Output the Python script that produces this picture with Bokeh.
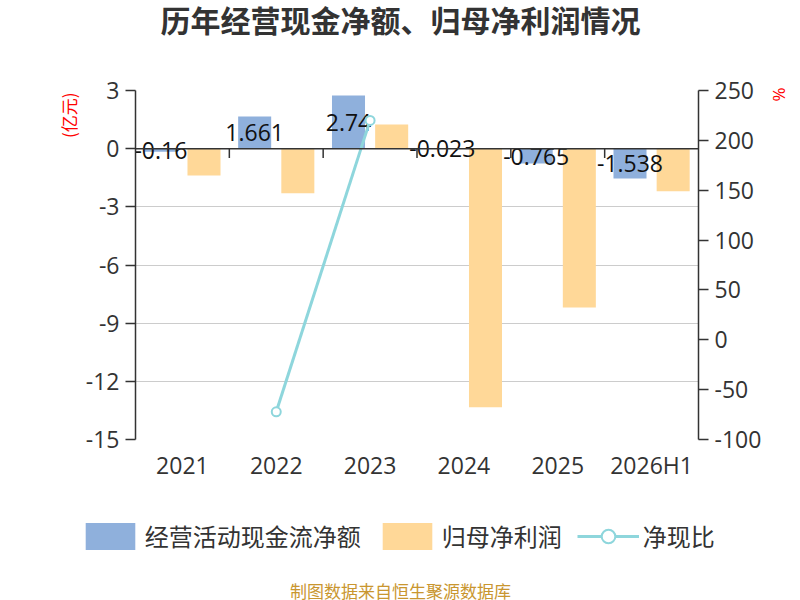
import math
from bokeh.plotting import figure
from bokeh.layouts import column
from bokeh.models import (FactorRange, Range1d, LinearAxis, FixedTicker, ColumnDataSource,
                          Span, Title, Legend, LegendItem)
from bokeh.transform import dodge
from bokeh.core.properties import value
from bokeh.embed import file_html
from bokeh.resources import INLINE

# ---- data ----
categories = ["2021", "2022", "2023", "2024", "2025", "2026H1"]
ocf = [-0.16, 1.661, 2.74, -0.023, -0.765, -1.538]          # 经营活动现金流净额 (亿元)
ocf_labels = ["-0.16", "1.661", "2.74", "-0.023", "-0.765", "-1.538"]
profit = [-1.38, -2.30, 1.24, -13.34, -8.19, -2.19]          # 归母净利润 (亿元)
ratio = [float("nan"), -72.2, 220.0, float("nan"), float("nan"), float("nan")]  # 净现比 (%)
left_ticks = [3, 0, -3, -6, -9, -12, -15]
right_ticks = [250, 200, 150, 100, 50, 0, -50, -100]
series_names = ["经营活动现金流净额", "归母净利润", "净现比"]
chart_title = "历年经营现金净额、归母净利润情况"
source_note = "制图数据来自恒生聚源数据库"

FONT = "'Open Sans', 'Noto Sans CJK SC', sans-serif"
CJK = "'Noto Sans CJK SC', sans-serif"
BLUE = "#8FB0DC"
ORANGE = "#FFD898"
CYAN = "#8ED6DC"
DARK = "#333333"
TEXT_X = 265  # strip text anchor (strip frames are aligned with the chart frame)


def strip(h):
    f = figure(x_range=Range1d(0, 800), y_range=Range1d(0, h),
               frame_width=800, frame_height=h, min_border=0,
               x_axis_type=None, y_axis_type=None,
               output_backend="svg", toolbar_location=None)
    f.outline_line_color = None
    f.grid.visible = False
    f.background_fill_color = "white"
    f.border_fill_color = "white"
    return f


# ---- top strip: title ----
top = strip(75)
top.text(x=[TEXT_X], y=[57], text=[chart_title], text_align="center", text_baseline="middle",
         text_font=value(CJK), text_font_size="30px", text_font_style="bold",
         text_color=DARK)

# ---- main chart ----
src = ColumnDataSource(dict(
    cat=categories, ocf=ocf, profit=profit, ratio=ratio,
    lab=ocf_labels, lab_y=[v / 2 for v in ocf],
))
bsrc = ColumnDataSource(dict(cat=categories[1:]))

p = figure(x_range=FactorRange(factors=categories, range_padding=0),
           y_range=Range1d(-15, 3),
           frame_width=563, frame_height=349,
           min_border_left=135, min_border_right=102,
           min_border_top=15, min_border_bottom=50,
           output_backend="svg", toolbar_location=None)
p.extra_y_ranges = {"pct": Range1d(-100, 250)}
p.outline_line_color = None
p.background_fill_color = "white"
p.border_fill_color = "white"

b1 = p.vbar(x=dodge("cat", -0.23, range=p.x_range), top="ocf", bottom=0, width=0.352,
            fill_color=BLUE, line_color=None, source=src)
b2 = p.vbar(x=dodge("cat", 0.23, range=p.x_range), top="profit", bottom=0, width=0.352,
            fill_color=ORANGE, line_color=None, source=src)

p.text(x=dodge("cat", -0.23, range=p.x_range), y="lab_y", text="lab", source=src,
       text_align="center", text_baseline="middle", text_font=value(FONT),
       text_font_size="23px", text_color="#111111")

zero = Span(location=0, dimension="width", line_color=DARK, line_width=1.5)
p.add_layout(zero)
p.segment(x0=dodge("cat", -0.5, range=p.x_range), x1=dodge("cat", -0.5, range=p.x_range),
          y0=0, y1=-0.48, line_color=DARK, line_width=1.5, source=bsrc)

line_r = p.line(x="cat", y="ratio", y_range_name="pct", line_color=CYAN, line_width=3, source=src)
p.scatter(x="cat", y="ratio", y_range_name="pct", size=9, fill_color="white",
          line_color=CYAN, line_width=2, source=src)

ya = p.yaxis[0]
ya.ticker = FixedTicker(ticks=left_ticks)
ya.major_label_overrides = {t: str(t) for t in left_ticks}
ra = LinearAxis(y_range_name="pct", ticker=FixedTicker(ticks=right_ticks))
ra.major_label_overrides = {t: str(t) for t in right_ticks}
p.add_layout(ra, "right")
for ax in [ya, ra]:
    ax.axis_line_color = DARK
    ax.axis_line_width = 1.5
    ax.major_tick_line_color = DARK
    ax.major_tick_line_width = 1.5
    ax.major_tick_out = 10
    ax.major_tick_in = 0
    ax.minor_tick_line_color = None
    ax.major_label_text_font = FONT
    ax.major_label_text_font_size = "23px"
    ax.major_label_text_color = DARK
ya.major_label_standoff = 6
ra.major_label_standoff = 6

xa = p.xaxis[0]
xa.axis_line_color = None
xa.major_tick_line_color = None
xa.minor_tick_line_color = None
xa.major_label_text_font = FONT
xa.major_label_text_font_size = "23px"
xa.major_label_text_color = DARK
xa.major_label_standoff = 3

p.xgrid.visible = False
p.ygrid.ticker = FixedTicker(ticks=left_ticks)
p.ygrid.grid_line_color = "#cccccc"
p.ygrid.grid_line_width = 1

unit_l = Title(text="(亿元)", align="right", offset=2, text_font=CJK,
               text_font_size="17px", text_font_style="normal", text_color="#ff0000", standoff=4)
p.add_layout(unit_l, "left")
unit_r = Title(text="%", align="left", offset=-3, text_font=FONT,
               text_font_size="17px", text_font_style="normal", text_color="#ff0000", standoff=6)
p.add_layout(unit_r, "right")

# ---- bottom strip: legend + source note ----
q = strip(111)
# legend proxies, kept outside the visible range of this strip
lg1 = q.vbar(x=[-500], top=[-500], bottom=[-501], width=1, fill_color=BLUE, line_color=None)
lg2 = q.vbar(x=[-500], top=[-500], bottom=[-501], width=1, fill_color=ORANGE, line_color=None)
lg3a = q.line(x=[-500, -499], y=[-500, -500], line_color=CYAN, line_width=3)
lg3b = q.scatter(x=[-500], y=[-500], size=22, fill_color="white", line_color=CYAN, line_width=2)

legend = Legend(items=[
    LegendItem(label=series_names[0], renderers=[lg1]),
    LegendItem(label=series_names[1], renderers=[lg2]),
    LegendItem(label=series_names[2], renderers=[lg3a, lg3b]),
], location=(78.75, 47), orientation="horizontal", glyph_width=62, glyph_height=34,
    label_standoff=4, spacing=15, padding=0, margin=0, border_line_color=None,
    background_fill_alpha=0, label_text_font=CJK, label_text_font_size="24px",
    label_text_color=DARK, label_text_baseline="middle")
q.add_layout(legend)

q.text(x=[TEXT_X], y=[10], text=[source_note], text_align="center", text_baseline="middle",
       text_font=value(CJK), text_font_size="17px", text_color="#C9962F")

layout = column(top, p, q, spacing=0)
open("out.html", "w").write(file_html(layout, INLINE))
